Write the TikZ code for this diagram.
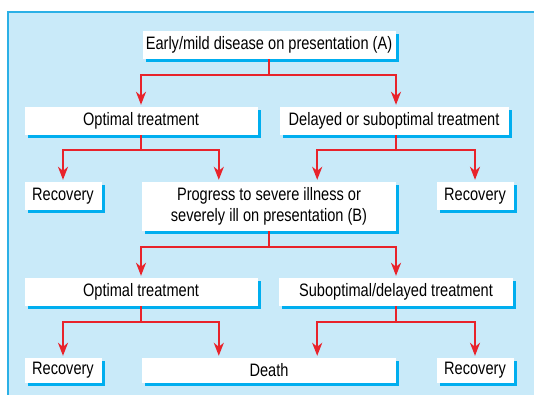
\documentclass[tikz,border=0pt]{standalone}
\usepackage{fontspec}
\setmainfont{Liberation Sans}[FakeStretch=0.81]
\usepackage{xcolor}
\usepackage{tikz}
\usetikzlibrary{arrows.meta, positioning, shadows, calc}
\definecolor{panelbg}{HTML}{C9EAF9}
\definecolor{panelrule}{HTML}{2BB0E6}
\definecolor{shade}{HTML}{00AEEF}
\definecolor{arrowred}{HTML}{E8232B}

\begin{document}
\begin{tikzpicture}[x=1pt, y=-1pt,
  box/.style={fill=white, inner sep=0pt, align=center,
              font=\fontsize{18}{21}\selectfont,
              drop shadow={shadow xshift=3pt, shadow yshift=-3pt, fill=shade, opacity=1}},
  wide/.style={box, minimum width=233pt, minimum height=28pt},
  small/.style={box, minimum width=77pt, minimum height=28pt},
  link/.style={draw=arrowred, line width=2pt},
  rel/.style={link, -{Stealth[length=13pt, width=10pt, inset=4pt]}, shorten >=2pt}
]
  \useasboundingbox (0,0) rectangle (534,394);
  \fill[panelbg] (8,12) rectangle (540,400);
  \draw[panelrule, line width=1.5pt] (8,400) -- (8,12) -- (540,12);

  % first stage
  \node[wide, minimum width=253pt] (a) at (269,45) {Early/mild disease on presentation (A)};
  \node[wide] (opt1) at (141,121) {Optimal treatment};
  \node[wide, minimum width=229pt] (del1) at (394,121) {Delayed or suboptimal treatment};

  % outcomes of stage one
  \node[small] (rec1) at (63,196) {Recovery};
  \node[wide, minimum width=254pt, minimum height=49pt] (b) at (269,206.5)
        {Progress to severe illness or\\severely ill on presentation (B)};
  \node[small] (rec2) at (475,196) {Recovery};

  % second stage
  \node[wide] (opt2) at (141,292) {Optimal treatment};
  \node[wide, minimum width=234pt] (sub2) at (396,292) {Suboptimal/delayed treatment};

  % outcomes of stage two
  \node[small, minimum height=25pt] (rec3) at (63,370.5) {Recovery};
  \node[wide, minimum width=254pt, minimum height=25pt] (death) at (269,370.5) {Death};
  \node[small, minimum height=25pt] (rec4) at (475,370.5) {Recovery};

  % connectors
  \coordinate (ja) at ($(a.south)+(0,16)$);
  \draw[link] (a.south) -- (ja);
  \draw[rel] (ja) -| (opt1.north);
  \draw[rel] (ja) -| (del1.north -| sub2.north);

  \coordinate (jo1) at ($(opt1.south)+(0,15)$);
  \draw[link] (opt1.south) -- (jo1);
  \draw[rel] (jo1) -| (rec1.north);
  \draw[rel] (jo1) -| ($(b.north west)+(77,0)$);

  \coordinate (jd1) at ($(del1.south -| sub2.north)+(0,15)$);
  \draw[link] (del1.south -| sub2.north) -- (jd1);
  \draw[rel] (jd1) -| ($(b.north east)+(-79,0)$);
  \draw[rel] (jd1) -| (rec2.north);

  \coordinate (jb) at ($(b.south)+(0,16)$);
  \draw[link] (b.south) -- (jb);
  \draw[rel] (jb) -| (opt2.north);
  \draw[rel] (jb) -| (sub2.north);

  \coordinate (jo2) at ($(opt2.south)+(0,16)$);
  \draw[link] (opt2.south) -- (jo2);
  \draw[rel] (jo2) -| (rec3.north);
  \draw[rel] (jo2) -| ($(death.north west)+(77,0)$);

  \coordinate (js2) at ($(sub2.south)+(0,16)$);
  \draw[link] (sub2.south) -- (js2);
  \draw[rel] (js2) -| ($(death.north east)+(-79,0)$);
  \draw[rel] (js2) -| (rec4.north);
\end{tikzpicture}
\end{document}
